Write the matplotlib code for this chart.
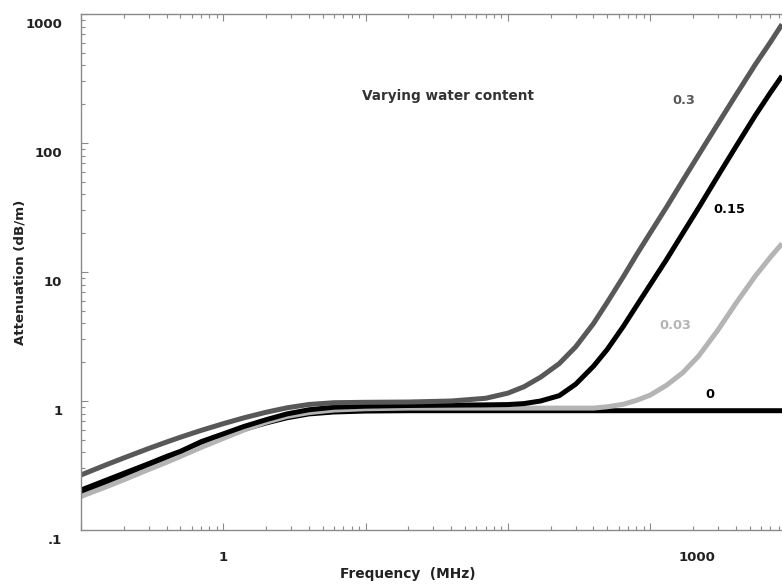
import matplotlib.pyplot as plt
from matplotlib.ticker import LogLocator, NullFormatter

plt.rcParams['font.family'] = ['DejaVu Sans']
plt.rcParams['font.weight'] = 'bold'

# frequency grid (MHz) shared by all curves
freq = [0.1, 0.15, 0.2, 0.3, 0.4, 0.5, 0.7, 1, 1.4, 2, 2.8, 4, 6, 10, 20, 40,
        70, 100, 130, 170, 230, 300, 400, 500, 650, 800, 1000, 1300, 1700,
        2200, 3000, 4000, 5500, 7000, 8460]

# attenuation (dB/m) for each volumetric water content
att_0 = [0.195, 0.232, 0.263, 0.313, 0.355, 0.389, 0.457, 0.525, 0.603, 0.676,
         0.741, 0.794, 0.822, 0.836, 0.841, 0.841, 0.841, 0.841, 0.841, 0.841,
         0.841, 0.841, 0.841, 0.841, 0.841, 0.841, 0.841, 0.841, 0.841, 0.841,
         0.841, 0.841, 0.841, 0.841, 0.841]
att_003 = [0.182, 0.216, 0.245, 0.295, 0.335, 0.372, 0.437, 0.513, 0.596, 0.684,
           0.759, 0.813, 0.851, 0.871, 0.881, 0.881, 0.881, 0.881, 0.881, 0.881,
           0.881, 0.881, 0.881, 0.902, 0.944, 1.01, 1.11, 1.32, 1.66, 2.24,
           3.55, 5.69, 9.33, 13.0, 16.6]
att_015 = [0.204, 0.243, 0.275, 0.327, 0.372, 0.407, 0.484, 0.556, 0.635, 0.716,
           0.794, 0.855, 0.895, 0.912, 0.923, 0.929, 0.933, 0.938, 0.955, 1.0,
           1.10, 1.35, 1.86, 2.51, 3.80, 5.43, 7.94, 12.4, 20.0, 31.6,
           55.6, 93.3, 164, 245, 331]
att_03 = [0.267, 0.320, 0.362, 0.429, 0.481, 0.524, 0.592, 0.667, 0.741, 0.818,
          0.885, 0.940, 0.970, 0.977, 0.982, 1.0, 1.05, 1.15, 1.29, 1.53,
          1.95, 2.63, 3.98, 5.82, 9.23, 13.5, 20.0, 31.6, 51.3, 81.3,
          141, 234, 407, 603, 832]

ytick_vals = [0.1, 1, 10, 100, 1000]
ytick_text = ['.1', '1', '10', '100', '1000']
xtick_vals = [1, 1000]
xtick_text = ['1', '1000']

fig = plt.figure(figsize=(7.82, 5.84), dpi=100)
ax = fig.add_axes([81 / 782, 54 / 584, 1 - 81 / 782, 516 / 584])

lw = 3.6
ax.plot(freq, att_0, color='black', lw=lw, solid_capstyle='butt')
ax.plot(freq, att_003, color='#b4b4b4', lw=lw, solid_capstyle='butt')
ax.plot(freq, att_015, color='black', lw=lw, solid_capstyle='butt')
ax.plot(freq, att_03, color='#585858', lw=lw, solid_capstyle='butt')

ax.set_xscale('log')
ax.set_yscale('log')
ax.set_xlim(0.1, 8460)
ax.set_ylim(0.1, 1000)

for axis in (ax.xaxis, ax.yaxis):
    axis.set_major_locator(LogLocator(base=10, numticks=20))
    axis.set_minor_locator(LogLocator(base=10, subs=range(2, 10), numticks=20))
    axis.set_major_formatter(NullFormatter())
    axis.set_minor_formatter(NullFormatter())

ax.tick_params(which='both', direction='in', top=True, right=False,
               color='#8a8a8a', width=0.8)
ax.tick_params(which='major', length=5)
ax.tick_params(which='minor', length=3)
for side in ('left', 'top', 'bottom'):
    ax.spines[side].set_color('#8a8a8a')
    ax.spines[side].set_linewidth(1.0)
ax.spines['right'].set_visible(False)

# tick labels sit a little below their ticks
for v, t in zip(ytick_vals, ytick_text):
    ax.annotate(t, xy=(0, v), xycoords=('axes fraction', 'data'),
                xytext=(-13.5, -7.5), textcoords='offset points',
                ha='right', va='center', fontsize=9.5, fontweight='bold',
                color='#222222', annotation_clip=False)
x_shift = [0, 34]
for v, t, dx in zip(xtick_vals, xtick_text, x_shift):
    ax.annotate(t, xy=(v, 0), xycoords=('data', 'axes fraction'),
                xytext=(dx, -20), textcoords='offset points',
                ha='center', va='center', fontsize=9.5, fontweight='bold',
                color='#222222', annotation_clip=False)

fig.text(408 / 782, 1 - 574 / 584, 'Frequency  (MHz)', ha='center', va='center',
         fontsize=9.9, fontweight='bold', color='#222222')
fig.text(20 / 782, 1 - 272 / 584, 'Attenuation (dB/m)', ha='center', va='center',
         rotation=90, fontsize=9.6, fontweight='bold', color='#222222')

ax.text(38, 231, 'Varying water content', ha='center', va='center',
        fontsize=9.8, fontweight='bold', color='#333333')
ax.text(1734, 212, '0.3', ha='center', va='center', fontsize=9.3,
        fontweight='bold', color='#585858')
ax.text(3590, 30.3, '0.15', ha='center', va='center', fontsize=9.3,
        fontweight='bold', color='black')
ax.text(1500, 3.88, '0.03', ha='center', va='center', fontsize=9.3,
        fontweight='bold', color='#b4b4b4')
ax.text(2640, 1.13, '0', ha='center', va='center', fontsize=9.3,
        fontweight='bold', color='black')

fig.savefig('out.png', dpi=100)
